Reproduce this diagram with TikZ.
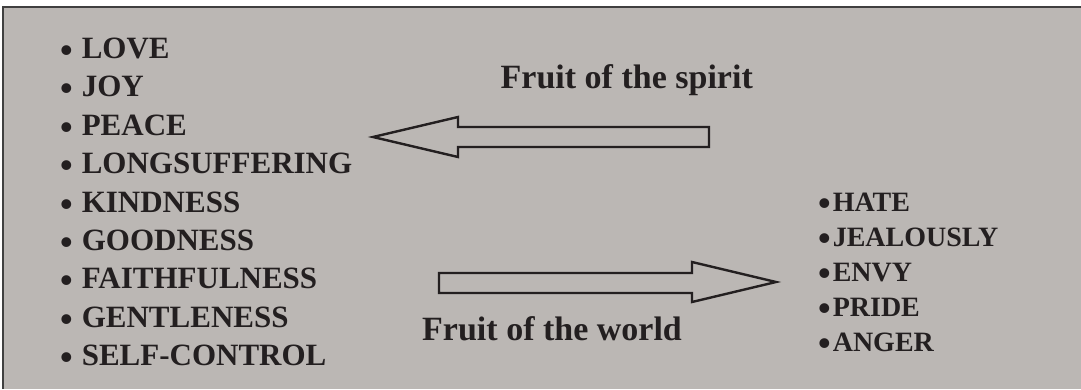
\documentclass[tikz,border=0pt]{standalone}
\usepackage{fontspec}
\setmainfont{Liberation Serif}
\usetikzlibrary{positioning}
\definecolor{panelgray}{RGB}{187,183,180}
\definecolor{inkdark}{RGB}{35,31,32}
\newcommand{\bul}{\raisebox{-4pt}{\fontsize{36}{36}\selectfont\textbullet}}

\begin{document}
\begin{tikzpicture}[x=1pt,y=-1pt,every node/.style={font=\bfseries\fontsize{31}{31}\selectfont,text=inkdark,inner sep=0pt,anchor=base west}]
  \useasboundingbox (0,0) rectangle (1081,389);
  \fill[white] (0,0) rectangle (1081,389);
  \fill[panelgray] (3,7) rectangle (1081,389);
  \draw[line width=2pt,black!75] (3,389)--(3,7)--(1081,7);
  \node (love) at (60,58){\bul\hspace{9pt}LOVE};
  \node (joy) at (60,96.5){\bul\hspace{9pt}JOY};
  \node (peace) at (60,135){\bul\hspace{9pt}PEACE};
  \node (longsuff) at (60,173.5){\bul\hspace{9pt}LONGSUFFERING};
  \node (kind) at (60,212){\bul\hspace{9pt}KINDNESS};
  \node (good) at (60,250){\bul\hspace{9pt}GOODNESS};
  \node (faith) at (60,288.5){\bul\hspace{9pt}FAITHFULNESS};
  \node (gentle) at (60,327){\bul\hspace{9pt}GENTLENESS};
  \node (selfctl) at (60,365){\bul\hspace{9pt}SELF-CONTROL};
  \node[font=\bfseries\fontsize{34}{34}\selectfont,anchor=base east] (spirit) at (753,88){Fruit of the spirit};
  \draw[line width=2.4pt,inkdark,line join=miter] (709,127)--(458,127)--(458,117)--(373,137)--(458,157)--(458,147)--(709,147)--cycle;
  \draw[line width=2.4pt,inkdark,line join=miter] (439,273)--(692,273)--(692,262)--(776,282)--(692,302)--(692,293)--(439,293)--cycle;
  \node[font=\bfseries\fontsize{34}{34}\selectfont] (world) at (422,340){Fruit of the world};
  \node[font=\bfseries\fontsize{28}{28}\selectfont] (hate) at (818,211){\bul\hspace{2pt}HATE};
  \node[font=\bfseries\fontsize{28}{28}\selectfont] (jealous) at (818,246){\bul\hspace{2pt}JEALOUSLY};
  \node[font=\bfseries\fontsize{28}{28}\selectfont] (envy) at (818,281){\bul\hspace{2pt}ENVY};
  \node[font=\bfseries\fontsize{28}{28}\selectfont] (pride) at (818,316){\bul\hspace{2pt}PRIDE};
  \node[font=\bfseries\fontsize{28}{28}\selectfont] (anger) at (818,351){\bul\hspace{2pt}ANGER};
\end{tikzpicture}
\end{document}
